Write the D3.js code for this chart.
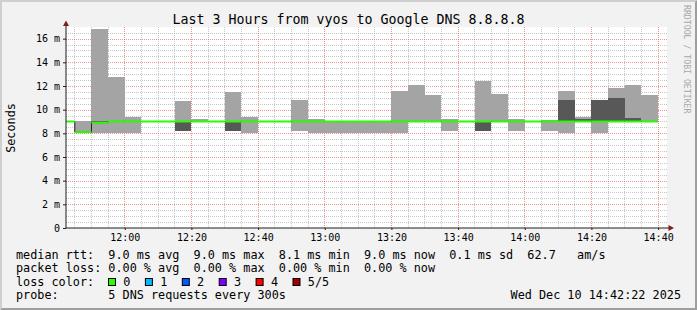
<!DOCTYPE html>
<html>
<head>
<meta charset="utf-8">
<script src="https://cdnjs.cloudflare.com/ajax/libs/d3/7.8.5/d3.min.js"></script>
<style>
html,body{margin:0;padding:0;background:#f2f2f2;}
svg{display:block;}
text{font-family:"DejaVu Sans Mono",monospace;white-space:pre;}
</style>
</head>
<body>
<div id="chart"></div>
<script>

// 5 minute bins, 5 pings each, sorted (ms)
var binStart = ["11:40","11:45","11:50","11:55","12:00","12:05","12:10","12:15","12:20","12:25","12:30","12:35",
	"12:40","12:45","12:50","12:55","13:00","13:05","13:10","13:15","13:20","13:25","13:30","13:35",
	"13:40","13:45","13:50","13:55","14:00","14:05","14:10","14:15","14:20","14:25","14:30","14:35"];
var ping1  = [9.0,8.0,8.0,8.0,8.0,9.0,9.0,8.2,9.0,9.0,8.2,8.0, 9.0,9.0,8.2,8.0,8.0,8.0,8.0,8.0,8.0,9.0,9.0,8.2, 9.0,8.2,9.0,8.2,9.0,8.2,8.0,9.0,8.0,9.0,9.0,9.0];
var ping2  = [9.0,8.1,8.9,9.0,9.0,9.0,9.0,8.2,9.0,9.0,8.2,9.0, 9.0,9.0,9.0,9.0,9.0,9.0,9.0,9.0,9.0,9.0,9.0,9.0, 9.0,8.2,9.0,9.0,9.0,9.0,9.0,9.0,9.0,9.0,9.0,9.0];
var median = [9.0,8.1,8.9,9.0,9.0,9.0,9.0,9.0,9.0,9.0,9.0,9.0, 9.0,9.0,9.0,9.0,9.0,9.0,9.0,9.0,9.0,9.0,9.0,9.0, 9.0,9.0,9.0,9.0,9.0,9.0,9.0,9.0,9.0,9.0,9.0,9.0];
var ping4  = [9.0,8.1,9.0,9.0,9.0,9.0,9.0,9.0,9.0,9.0,9.0,9.0, 9.0,9.0,9.0,9.0,9.0,9.0,9.0,9.0,9.0,9.0,9.0,9.0, 9.0,9.0,9.0,9.0,9.0,9.0,10.8,9.25,10.8,11.0,9.3,9.0];
var ping5  = [9.0,9.0,16.8,12.8,9.4,9.0,9.0,10.7,9.25,9.0,11.5,9.4, 9.0,9.0,10.8,9.25,9.0,9.0,9.0,9.0,11.6,12.05,11.2,9.25, 9.0,12.45,11.3,9.25,9.0,9.1,11.6,9.4,10.8,11.85,12.05,11.2];

var yTicks = [0,2,4,6,8,10,12,14,16];
var yTickLabels = ["0","2 m","4 m","6 m","8 m","10 m","12 m","14 m","16 m"];
var xTicks = ["12:00","12:20","12:40","13:00","13:20","13:40","14:00","14:20","14:40"];

var rttStats = ["9.0","9.0","8.1","9.0","0.1","62.7"];
var lossStats = ["0.00","0.00","0.00","0.00"];
var lossLabels = ["0","1","2","3","4","5/5"];
var lossColors = ["#26ff00","#00b8ff","#0059ff","#7e00ff","#ff0000","#a10000"];

var W = 697, H = 310;
var yMax = 16.9;

function hm(s){
	var p = s.split(":");
	return new Date(2025,11,10,+p[0],+p[1],0);
}
var tStart = new Date(2025,11,10,11,42,22);
var tEnd = new Date(2025,11,10,14,42,22);

var x = d3.scaleTime().domain([tStart,tEnd]).range([66,666]);
var y = d3.scaleLinear().domain([0,yMax]).range([228,28]);

var bins = binStart.map(function(s,i){
	var t0 = hm(s);
	return {t0:t0, t1:new Date(t0.getTime()+300000), p1:ping1[i], p2:ping2[i], med:median[i], p4:ping4[i], p5:ping5[i]};
});

var svg = d3.select("#chart").append("svg").attr("width",W).attr("height",H);

// background + 3d frame
svg.append("rect").attr("width",W).attr("height",H).attr("fill","#f2f2f2");
svg.append("path").attr("d","M0,0H697L695,2H2V308L0,310Z").attr("fill","#cfcfcf");
svg.append("path").attr("d","M697,0V310H0L2,308H695V2Z").attr("fill","#9e9e9e");

// canvas
svg.append("rect").attr("x",66).attr("y",27).attr("width",601).attr("height",201).attr("fill","#ffffff");

svg.append("defs").append("clipPath").attr("id","clip")
	.append("rect").attr("x",66).attr("y",28).attr("width",600).attr("height",200);

// grid
var grid = svg.append("g").attr("shape-rendering","crispEdges");
var hMinor = d3.range(0.5,yMax,0.5).filter(function(v){return v%2!=0;});
var hMajor = yTicks.filter(function(v){return v>0;});
grid.selectAll(".hmin").data(hMinor).join("line")
	.attr("x1",66).attr("x2",667)
	.attr("y1",function(d){return Math.round(y(d))+0.5;}).attr("y2",function(d){return Math.round(y(d))+0.5;})
	.attr("stroke","rgba(143,143,143,0.5)").attr("stroke-dasharray","1,1");
var xMajorDates = xTicks.map(hm);
var vMinor = d3.timeMinute.every(5).range(hm("11:45"),tEnd).filter(function(d){return d.getMinutes()%20!=0;});
grid.selectAll(".vmin").data(vMinor).join("line")
	.attr("y1",27).attr("y2",228)
	.attr("x1",function(d){return Math.floor(x(d))+0.5;}).attr("x2",function(d){return Math.floor(x(d))+0.5;})
	.attr("stroke","rgba(143,143,143,0.5)").attr("stroke-dasharray","1,1");
grid.selectAll(".hmaj").data(hMajor).join("line")
	.attr("x1",66).attr("x2",667)
	.attr("y1",function(d){return Math.round(y(d))+0.5;}).attr("y2",function(d){return Math.round(y(d))+0.5;})
	.attr("stroke","rgba(222,79,79,0.6)").attr("stroke-dasharray","1,1");
grid.selectAll(".vmaj").data(xMajorDates).join("line")
	.attr("y1",27).attr("y2",228)
	.attr("x1",function(d){return Math.floor(x(d))+0.5;}).attr("x2",function(d){return Math.floor(x(d))+0.5;})
	.attr("stroke","rgba(222,79,79,0.6)").attr("stroke-dasharray","1,1");

// smoke
var plot = svg.append("g").attr("clip-path","url(#clip)");
plot.selectAll(".outer").data(bins.filter(function(d){return d.p5>d.p1;})).join("rect")
	.attr("shape-rendering","crispEdges")
	.attr("x",function(d){return x(d.t0);}).attr("width",function(d){return x(d.t1)-x(d.t0);})
	.attr("y",function(d){return y(d.p5);}).attr("height",function(d){return y(d.p1)-y(d.p5);})
	.attr("fill","#a4a4a4");
plot.selectAll(".inner").data(bins.filter(function(d){return d.p4>d.p2;})).join("rect")
	.attr("shape-rendering","crispEdges")
	.attr("x",function(d){return x(d.t0);}).attr("width",function(d){return x(d.t1)-x(d.t0);})
	.attr("y",function(d){return y(d.p4);}).attr("height",function(d){return y(d.p2)-y(d.p4);})
	.attr("fill","#585858");

// median line (dark) + loss colored band
var pts = bins.map(function(d){return [d.t0,d.med];});
pts.push([bins[bins.length-1].t1, bins[bins.length-1].med]);
var line = d3.line().x(function(d){return x(d[0]);}).y(function(d){return y(d[1]);}).curve(d3.curveStepAfter);
plot.append("path").attr("d",line(pts)).attr("fill","none").attr("stroke","#202020").attr("stroke-width",1);
var sw = yMax/200;
plot.selectAll(".med").data(bins).join("rect")
	.attr("x",function(d){return x(d.t0);}).attr("width",function(d){return x(d.t1)-x(d.t0);})
	.attr("y",function(d){return y(d.med+sw);}).attr("height",function(d){return y(d.med-sw)-y(d.med+sw);})
	.attr("fill",lossColors[0]);

// axes
var yAxis = svg.append("g").attr("transform","translate(66,0)")
	.call(d3.axisLeft(y).tickValues(yTicks).tickFormat(function(d,i){return yTickLabels[i];}).tickSize(3).tickPadding(3));
yAxis.select(".domain").remove();
yAxis.selectAll("text").attr("font-size","10px").attr("font-family","DejaVu Sans Mono").attr("fill","#000");
yAxis.selectAll("line").attr("stroke","#1f1f1f");

var xAxis = svg.append("g").attr("transform","translate(0,228)")
	.call(d3.axisBottom(x).tickValues(xMajorDates).tickFormat(function(d,i){return xTicks[i];}).tickSize(2).tickPadding(4));
xAxis.select(".domain").remove();
xAxis.selectAll("text").attr("font-size","10px").attr("font-family","DejaVu Sans Mono").attr("fill","#000");
xAxis.selectAll("line").attr("stroke","#1f1f1f");

svg.append("line").attr("x1",66).attr("x2",66).attr("y1",228).attr("y2",23).attr("stroke","#1f1f1f");
svg.append("line").attr("x1",66).attr("x2",670).attr("y1",228).attr("y2",228).attr("stroke","#1f1f1f");
svg.append("path").attr("d","M63,26L66,20.5L69,26Z").attr("fill","#801f1f");
svg.append("path").attr("d","M668.5,225L674,228L668.5,231Z").attr("fill","#801f1f");

// texts
svg.append("text").attr("x",348.5).attr("y",24).attr("text-anchor","middle")
	.attr("font-size","13.3px").text("Last 3 Hours from vyos to Google DNS 8.8.8.8");
svg.append("text").attr("transform","translate(15,128) rotate(-90)").attr("text-anchor","middle")
	.attr("font-size","11.8px").text("Seconds");
svg.append("text").attr("transform","translate(683.5,5) rotate(90)")
	.attr("font-size","8.2px").attr("fill","#a8a8a8").text("RRDTOOL / TOBI OETIKER");

var leg = svg.append("g").attr("font-size","11.8px").attr("fill","#000");
leg.append("text").attr("x",16).attr("y",258.5)
	.text("median rtt:  "+rttStats[0]+" ms avg  "+rttStats[1]+" ms max  "+rttStats[2]+" ms min  "+rttStats[3]+" ms now  "+rttStats[4]+" ms sd  "+rttStats[5]+"   am/s");
leg.append("text").attr("x",16).attr("y",272)
	.text("packet loss: "+lossStats[0]+" % avg  "+lossStats[1]+" % max  "+lossStats[2]+" % min  "+lossStats[3]+" % now");
leg.append("text").attr("x",16).attr("y",285.5).text("loss color:");
var li = leg.selectAll(".li").data(lossLabels).join("g")
	.attr("transform",function(d,i){return "translate("+(108.5+i*36.9)+",0)";});
li.append("rect").attr("x",0).attr("y",278.5).attr("width",7).attr("height",7)
	.attr("fill",function(d,i){return lossColors[i];}).attr("stroke","#000").attr("stroke-width",1);
li.append("text").attr("x",14.8).attr("y",285.5).text(function(d){return d;});
leg.append("text").attr("x",16).attr("y",299).text("probe:       5 DNS requests every 300s");
leg.append("text").attr("x",681).attr("y",299).attr("text-anchor","end").text("Wed Dec 10 14:42:22 2025");

</script>
</body>
</html>
